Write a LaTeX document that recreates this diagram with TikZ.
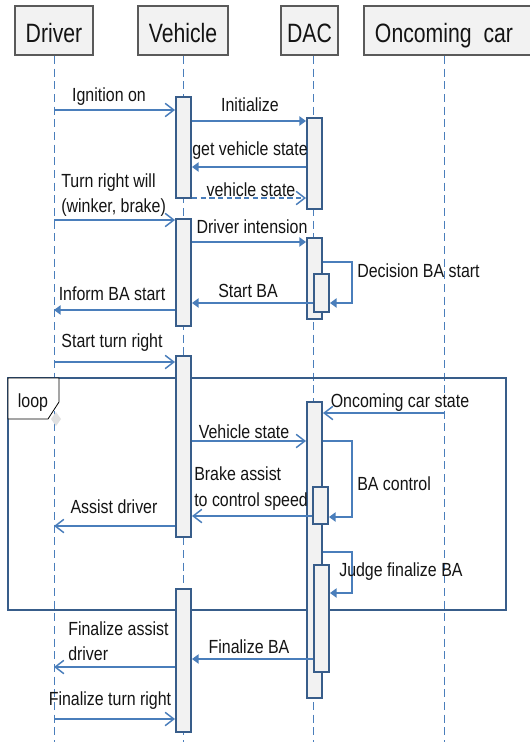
\documentclass[tikz,border=0pt]{standalone}
\usepackage{fontspec}
\setmainfont[FakeStretch=0.84]{Liberation Sans}
\newfontfamily\hdfont[FakeStretch=0.8]{Liberation Sans}
\usetikzlibrary{arrows.meta,fit}
\definecolor{linkblue}{RGB}{74,126,187}
\definecolor{actborder}{RGB}{56,93,138}
\definecolor{boxgray}{RGB}{242,242,242}
\definecolor{hdrborder}{RGB}{90,90,90}
\definecolor{txt}{RGB}{20,20,20}
\tikzset{
  hdrbox/.style={draw=hdrborder, line width=0.8pt, fill=boxgray, inner sep=0pt},
  hdrtext/.style={anchor=base, inner sep=0pt, text=txt, font=\hdfont\fontsize{19.9}{22}\selectfont},
  lifeline/.style={draw=linkblue, line width=0.75pt, dash pattern=on 6pt off 3.5pt},
  actbox/.style={draw=actborder, line width=1.9pt, fill=boxgray, inner sep=0pt},
  loopframe/.style={draw=actborder, line width=1.5pt},
  msgline/.style={draw=linkblue, line width=1.1pt},
  openarr/.style={msgline, -{Straight Barb[length=6.5pt,width=10pt,line width=1.1pt]}},
  fillarr/.style={msgline, -{Triangle[length=5pt,width=7pt]}},
  lbl/.style={inner sep=0pt, text=txt, font=\fontsize{14.25}{17}\selectfont},
}
\begin{document}
\begin{tikzpicture}[x=0.75pt,y=-0.75pt]
\path[fill=white] (0,0) rectangle (529,742);
\useasboundingbox (0,0) rectangle (529,742);

% headers
\node[hdrbox, fit={(15,6)(93,55)}] (hDriver) {};
\node[hdrbox, fit={(138,6)(228,55)}] (hVehicle) {};
\node[hdrbox, fit={(281,6)(338,55)}] (hDAC) {};
\node[hdrbox, fit={(364,6)(532,55)}] (hOnc) {};
\node[hdrtext] (tDriver) at (54,43) {Driver};
\node[hdrtext] (tVehicle) at (183,43) {Vehicle};
\node[hdrtext] (tDAC) at (309.5,43) {DAC};
\node[hdrtext] (tOnc) at (444,43) {Oncoming\ \ car};

% lifelines
\coordinate (lDa) at (54,56);   \coordinate (lDb) at (54,742);
\coordinate (lVa) at (183,56);  \coordinate (lVb) at (183,742);
\coordinate (lCa) at (313,56);  \coordinate (lCb) at (313,742);
\coordinate (lOa) at (444,56);  \coordinate (lOb) at (444,742);
\draw[lifeline] (lDa) -- (lDb);
\draw[lifeline] (lVa) -- (lVb);
\draw[lifeline] (lCa) -- (lCb);
\draw[lifeline] (lOa) -- (lOb);

% loop frame
\node[loopframe, inner sep=0pt, fit={(8,378)(506,610)}] (loop) {};
\fill[black!12] (56,412) -- (61,419) -- (56,426) -- (51,419) -- cycle;
\draw[black, line width=0.6pt, fill=white] (8,378) -- (59,378) -- (59,402) -- (48,419) -- (8,419) -- cycle;
\node[lbl, anchor=base] (tloop) at (33,407) {loop};

% activations
\node[actbox, fit={(176,97)(191,198)}] (va1) {};
\node[actbox, fit={(307,118)(322,209)}] (da1) {};
\node[actbox, fit={(176,219)(191,326)}] (va2) {};
\node[actbox, fit={(307,238)(322,319)}] (da2) {};
\node[actbox, fit={(314,274)(329,312)}] (dn2) {};
\node[actbox, fit={(176,356)(191,537)}] (va3) {};
\node[actbox, fit={(307,402)(322,698)}] (da3) {};
\node[actbox, fit={(313,487)(328,524)}] (dn3) {};
\node[actbox, fit={(314,565)(329,672)}] (dn4) {};
\node[actbox, fit={(176,589)(191,732)}] (va4) {};

% message endpoints
\coordinate (m1a) at (54,110);   \coordinate (m1b) at (175,110);
\coordinate (m2a) at (192,121);  \coordinate (m2b) at (306,121);
\coordinate (m3a) at (306,167);  \coordinate (m3b) at (192,167);
\coordinate (m4a) at (192,198);  \coordinate (m4b) at (306,198);
\coordinate (m5a) at (54,220);   \coordinate (m5b) at (175,220);
\coordinate (m6a) at (192,242);  \coordinate (m6b) at (306,242);
\coordinate (m7a) at (323,262);  \coordinate (m7k1) at (352,262);
\coordinate (m7k2) at (352,303); \coordinate (m7b) at (330,303);
\coordinate (m8a) at (313,303);  \coordinate (m8b) at (192,303);
\coordinate (m9a) at (175,310);  \coordinate (m9b) at (54,310);
\coordinate (m10a) at (54,362);  \coordinate (m10b) at (175,362);
\coordinate (m11a) at (444,413); \coordinate (m11b) at (323,413);
\coordinate (m12a) at (192,441); \coordinate (m12b) at (306,441);
\coordinate (m13a) at (323,441); \coordinate (m13k1) at (352,441);
\coordinate (m13k2) at (352,517);\coordinate (m13b) at (329,517);
\coordinate (m14a) at (312,516); \coordinate (m14b) at (192,516);
\coordinate (m15a) at (175,526); \coordinate (m15b) at (54,526);
\coordinate (m16a) at (323,552); \coordinate (m16k1) at (352,552);
\coordinate (m16k2) at (352,593);\coordinate (m16b) at (330,593);
\coordinate (m17a) at (313,659); \coordinate (m17b) at (192,659);
\coordinate (m18a) at (175,667); \coordinate (m18b) at (54,667);
\coordinate (m19a) at (54,719);  \coordinate (m19b) at (175,719);

% messages
\draw[openarr] (m1a) -- (m1b);
\draw[fillarr] (m2a) -- (m2b);
\draw[fillarr] (m3a) -- (m3b);
\draw[openarr, dash pattern=on 4pt off 2.5pt] (m4a) -- (m4b);
\draw[openarr] (m5a) -- (m5b);
\draw[fillarr] (m6a) -- (m6b);
\draw[fillarr] (m7a) -- (m7k1) -- (m7k2) -- (m7b);
\draw[fillarr] (m8a) -- (m8b);
\draw[fillarr] (m9a) -- (m9b);
\draw[openarr] (m10a) -- (m10b);
\draw[openarr] (m11a) -- (m11b);
\draw[openarr] (m12a) -- (m12b);
\draw[fillarr] (m13a) -- (m13k1) -- (m13k2) -- (m13b);
\draw[openarr] (m14a) -- (m14b);
\draw[openarr] (m15a) -- (m15b);
\draw[fillarr] (m16a) -- (m16k1) -- (m16k2) -- (m16b);
\draw[fillarr] (m17a) -- (m17b);
\draw[openarr] (m18a) -- (m18b);
\draw[openarr] (m19a) -- (m19b);

% labels
\node[lbl, anchor=base] (l1) at (109,101) {Ignition on};
\node[lbl, anchor=base] (l2) at (250,111) {Initialize};
\node[lbl, anchor=base] (l3) at (250,155) {get vehicle state};
\node[lbl, anchor=base] (l4) at (251,196) {vehicle state};
\node[lbl, anchor=base west] (l5a) at (61,187) {Turn right will};
\node[lbl, anchor=base west] (l5b) at (61,212) {(winker, brake)};
\node[lbl, anchor=base] (l6) at (252,233) {Driver intension};
\node[lbl, anchor=base west] (l7) at (357,277) {Decision BA start};
\node[lbl, anchor=base] (l8) at (248,297) {Start BA};
\node[lbl, anchor=base] (l9) at (112,300) {Inform BA start};
\node[lbl, anchor=base] (l10) at (112,347) {Start turn right};
\node[lbl, anchor=base] (l11) at (400,407) {Oncoming car state};
\node[lbl, anchor=base] (l12) at (244,438) {Vehicle state};
\node[lbl, anchor=base west] (l13) at (357,490) {BA control};
\node[lbl, anchor=base west] (l14a) at (194,480) {Brake assist};
\node[lbl, anchor=base west] (l14b) at (194,506) {to control speed};
\node[lbl, anchor=base] (l15) at (114,513) {Assist driver};
\node[lbl, anchor=base west] (l16) at (339,576) {Judge finalize BA};
\node[lbl, anchor=base] (l17) at (249,653) {Finalize BA};
\node[lbl, anchor=base west] (l18a) at (68,635) {Finalize assist};
\node[lbl, anchor=base west] (l18b) at (68,660) {driver};
\node[lbl, anchor=base] (l19) at (110,705) {Finalize turn right};
\end{tikzpicture}
\end{document}
